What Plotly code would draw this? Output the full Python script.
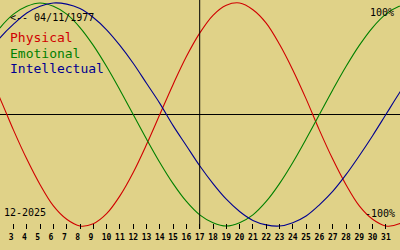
import plotly.graph_objects as go

# Days of the month (12-2025)
days = list(range(1, 34))

# Biorhythm values (-1 .. 1)
physical = [0.40, 0.14, -0.14, -0.40, -0.63, -0.82, -0.94, -1.00, -0.98, -0.89,
            -0.73, -0.52, -0.27, 0.00, 0.27, 0.52, 0.73, 0.89, 0.98, 1.00,
            0.94, 0.82, 0.63, 0.40, 0.14, -0.14, -0.40, -0.63, -0.82, -0.94,
            -1.00, -0.98, -0.89]
emotional = [0.62, 0.78, 0.90, 0.97, 1.00, 0.97, 0.90, 0.78, 0.62, 0.43,
             0.22, 0.00, -0.22, -0.43, -0.62, -0.78, -0.90, -0.97, -1.00, -0.97,
             -0.90, -0.78, -0.62, -0.43, -0.22, 0.00, 0.22, 0.43, 0.62, 0.78,
             0.90, 0.97, 1.00]
intellectual = [0.54, 0.69, 0.81, 0.91, 0.97, 1.00, 0.99, 0.95, 0.87, 0.76,
                0.62, 0.46, 0.28, 0.10, -0.10, -0.28, -0.46, -0.62, -0.76, -0.87,
                -0.95, -0.99, -1.00, -0.97, -0.91, -0.81, -0.69, -0.54, -0.37, -0.19,
                0.00, 0.19, 0.37]

tick_days = list(range(3, 32))
tick_text = [str(d) if d >= 10 else str(d) + "\u00a0" for d in tick_days]
today = 17
birth_label = "<-- 04/11/1977"
month_label = "12-2025"
series_names = ["Physical", "Emotional", "Intellectual"]
colors = ["#d00000", "#008000", "#000090"]

BG = "#e0d288"
MONO = "DejaVu Sans Mono"

fig = go.Figure()
for name, vals, col in zip(series_names, [physical, emotional, intellectual], colors):
    fig.add_trace(go.Scatter(x=days, y=vals, mode="lines", name=name,
                             line=dict(color=col, width=1.1, shape="spline", smoothing=1.0),
                             hoverinfo="skip"))

fig.add_shape(type="line", xref="x", yref="paper", x0=today, x1=today, y0=0, y1=1,
              line=dict(color="black", width=1))

H = 229.0  # plot area height in px

def py(px):
    return 1 - px / H

ann = []
ann.append(dict(text=birth_label, x=8 / 400, y=py(17), xanchor="left", yanchor="middle",
                font=dict(family=MONO, size=10, color="black")))
ann.append(dict(text="100%", x=396 / 400, y=py(12), xanchor="right", yanchor="middle",
                font=dict(family=MONO, size=10, color="black")))
ann.append(dict(text="-100%", x=397 / 400, y=py(213), xanchor="right", yanchor="middle",
                font=dict(family=MONO, size=10, color="black")))
ann.append(dict(text=month_label, x=2 / 400, y=py(212), xanchor="left", yanchor="middle",
                font=dict(family=MONO, size=10, color="black")))
for i, (name, col) in enumerate(zip(series_names, colors)):
    ann.append(dict(text=name, x=8 / 400, y=py(38 + 15 * i), xanchor="left", yanchor="middle",
                    font=dict(family=MONO, size=13, color=col)))
for a in ann:
    a.update(xref="paper", yref="paper", showarrow=False)

fig.update_layout(
    width=400, height=250,
    margin=dict(l=0, r=0, t=0, b=21, pad=0),
    paper_bgcolor=BG, plot_bgcolor=BG,
    showlegend=False,
    annotations=ann,
    xaxis=dict(range=[1.985, 32.06], showgrid=False, zeroline=False, showline=False,
               tickmode="array", tickvals=tick_days, ticktext=tick_text, tickangle=0,
               ticks="inside", ticklen=5, tickwidth=1, tickcolor="black",
               ticklabelstandoff=2,
               tickfont=dict(family=MONO, size=8, color="black", weight="bold")),
    yaxis=dict(range=[-1.027, 1.027], showgrid=False, showticklabels=False,
               zeroline=True, zerolinecolor="black", zerolinewidth=1, ticks=""),
)

fig.write_html("out.html", config={"displayModeBar": False})
